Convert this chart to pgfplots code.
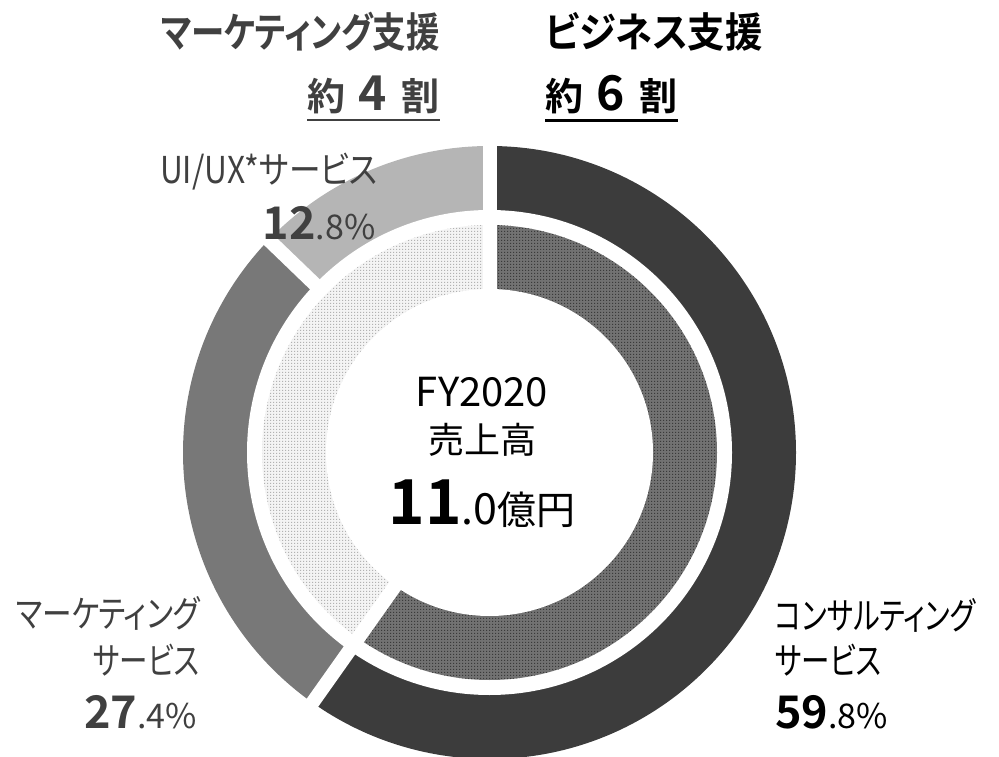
\documentclass[border=0pt]{standalone}
\usepackage{pgfplots}
\pgfplotsset{compat=1.18}
\usepackage{pgfplotstable}
\usepackage{fontspec}
\setmainfont{Noto Sans CJK JP}[RawFeature=+palt, BoldFont={Noto Sans CJK JP Bold}]
\newfontfamily\jpmed{Noto Sans CJK JP Medium}[RawFeature=+palt]
\usetikzlibrary{patterns}

\definecolor{cons}{HTML}{3C3C3C}
\definecolor{mkt}{HTML}{787878}
\definecolor{uiux}{HTML}{B5B5B5}
\definecolor{bizbg}{HTML}{727272}
\definecolor{bizdot}{HTML}{3A3A3A}
\definecolor{mksbg}{HTML}{F4F4F4}
\definecolor{mksdot}{HTML}{B2B2B2}
\definecolor{txtg}{HTML}{404040}

\pgfdeclarepatternformonly{fdots}{\pgfpointorigin}{\pgfpoint{3pt}{3pt}}{\pgfpoint{3pt}{3pt}}{%
  \pgfpathrectangle{\pgfpointorigin}{\pgfpoint{1.6pt}{1.6pt}}\pgfusepath{fill}}

\pgfplotstableread{
seg pct
Consulting 59.8
Marketing 27.4
UIUX 12.8
}\outerdata
\pgfplotstableread{
seg pct
Business 59.8
MarketingSupport 40.2
}\innerdata

\begin{document}
\begin{tikzpicture}
\pgfplotstablegetelem{0}{pct}\of\outerdata \let\pa\pgfplotsretval
\pgfplotstablegetelem{1}{pct}\of\outerdata \let\pb\pgfplotsretval
\pgfplotstablegetelem{2}{pct}\of\outerdata \let\pc\pgfplotsretval
\pgfplotstablegetelem{0}{pct}\of\innerdata \let\qa\pgfplotsretval
\pgfplotstablegetelem{1}{pct}\of\innerdata \let\qb\pgfplotsretval
\pgfmathsetmacro\aA{90-3.6*\pa}
\pgfmathsetmacro\aB{\aA-3.6*\pb}
\pgfmathsetmacro\aC{\aB-3.6*\pc}
\pgfmathsetmacro\bA{90-3.6*\qa}
\pgfmathsetmacro\bB{\bA-3.6*\qb}
\def\Ro{306.5pt}\def\Ri{242.5pt}\def\ro{227.5pt}\def\ri{163.5pt}
\begin{axis}[name=ax, scale only axis, width=999pt, height=756pt,
  xmin=0, xmax=999, ymin=-756, ymax=0, hide axis, clip=true]
\addplot[draw=none, forget plot] coordinates {(0,0)};
% outer ring
\fill[cons] (axis cs:489.5,-452.5) -- ++(90:\Ro) arc[start angle=90, end angle=\aA, radius=\Ro] -- cycle;
\fill[mkt] (axis cs:489.5,-452.5) -- ++(\aA:\Ro) arc[start angle=\aA, end angle=\aB, radius=\Ro] -- cycle;
\fill[uiux] (axis cs:489.5,-452.5) -- ++(\aB:\Ro) arc[start angle=\aB, end angle=\aC, radius=\Ro] -- cycle;
\fill[white] (axis cs:489.5,-452.5) circle[radius=\Ri];
% inner ring
\fill[bizbg] (axis cs:489.5,-452.5) -- ++(90:\ro) arc[start angle=90, end angle=\bA, radius=\ro] -- cycle;
\fill[pattern=fdots, pattern color=bizdot] (axis cs:489.5,-452.5) -- ++(90:\ro) arc[start angle=90, end angle=\bA, radius=\ro] -- cycle;
\fill[mksbg] (axis cs:489.5,-452.5) -- ++(\bA:\ro) arc[start angle=\bA, end angle=\bB, radius=\ro] -- cycle;
\fill[pattern=fdots, pattern color=mksdot] (axis cs:489.5,-452.5) -- ++(\bA:\ro) arc[start angle=\bA, end angle=\bB, radius=\ro] -- cycle;
\fill[white] (axis cs:489.5,-452.5) circle[radius=\ri];
% separators
\draw[white, line width=14pt] (axis cs:489.5,-452.5) -- ++(90:330pt);
\draw[white, line width=14pt] (axis cs:489.5,-452.5) -- ++(\aA:330pt);
\draw[white, line width=14pt] (axis cs:489.5,-452.5) ++(\aB:236pt) -- ++(\aB:100pt);
% headers
\node[anchor=east, inner sep=0pt, text=txtg, font=\fontsize{41}{45}\selectfont\bfseries] at (axis cs:440,-31.5) {\scalebox{0.815}[1]{マーケティング支援}};
\node[anchor=east, inner sep=0pt, text=txtg, font=\fontsize{38}{42}\selectfont\bfseries] (u1) at (axis cs:440,-95) {約\hspace{13pt}{\fontsize{48}{50}\selectfont 4}\hspace{15pt}割};
\draw[txtg, line width=2.5pt] ([yshift=-6pt]u1.south west) -- ([yshift=-6pt]u1.south east);
\node[anchor=west, inner sep=0pt, text=black, font=\fontsize{41}{45}\selectfont\bfseries] at (axis cs:545,-31.5) {\scalebox{0.91}[1]{ビジネス支援}};
\node[anchor=west, inner sep=0pt, text=black, font=\fontsize{38}{42}\selectfont\bfseries] (u2) at (axis cs:545,-95) {約\hspace{13pt}{\fontsize{48}{50}\selectfont 6}\hspace{15pt}割};
\draw[black, line width=2.5pt] ([yshift=-6pt]u2.south west) -- ([yshift=-6pt]u2.south east);
% UI/UX
\node[anchor=center, inner sep=0pt, text=txtg, font=\fontsize{37}{40}\selectfont] at (axis cs:269,-172) {\scalebox{0.855}[1]{UI/UX*サービス}};
\node[anchor=base, inner sep=0pt, text=txtg] at (axis cs:319,-240) {{\fontsize{45}{50}\selectfont\bfseries 12}{\fontsize{34}{40}\selectfont .8\%}};
% marketing
\node[anchor=east, inner sep=0pt, text=txtg, font=\fontsize{37}{40}\selectfont] at (axis cs:200,-613.5) {\scalebox{0.8}[1]{マーケティング}};
\node[anchor=east, inner sep=0pt, text=txtg, font=\fontsize{37}{40}\selectfont] at (axis cs:200,-660) {\scalebox{0.77}[1]{サービス}};
\node[anchor=base east, inner sep=0pt, text=txtg] at (axis cs:197,-728) {{\fontsize{45}{50}\selectfont\bfseries 27}{\fontsize{34}{40}\selectfont .4\%}};
% consulting
\node[anchor=west, inner sep=0pt, text=black, font=\fontsize{37}{40}\selectfont] at (axis cs:775,-615) {\scalebox{0.76}[1]{コンサルティング}};
\node[anchor=west, inner sep=0pt, text=black, font=\fontsize{37}{40}\selectfont] at (axis cs:775,-660) {\scalebox{0.77}[1]{サービス}};
\node[anchor=base west, inner sep=0pt, text=black] at (axis cs:775,-728) {{\fontsize{45}{50}\selectfont\bfseries 59}{\fontsize{34}{40}\selectfont .8\%}};
% center
\node[anchor=center, inner sep=0pt, text=black, font=\fontsize{40}{44}\selectfont] at (axis cs:482,-392.5) {FY2020};
\node[anchor=center, inner sep=0pt, text=black, font=\fontsize{36}{40}\selectfont] at (axis cs:482,-440) {売上高};
\node[anchor=base, inner sep=0pt, text=black] at (axis cs:482,-524) {{\fontsize{62}{66}\selectfont\bfseries 11}{\fontsize{43}{46}\selectfont .0}{\fontsize{39}{42}\selectfont 億円}};
\end{axis}
\pgfresetboundingbox
\path[use as bounding box] (ax.south west) rectangle (ax.north east);
\end{tikzpicture}
\end{document}
